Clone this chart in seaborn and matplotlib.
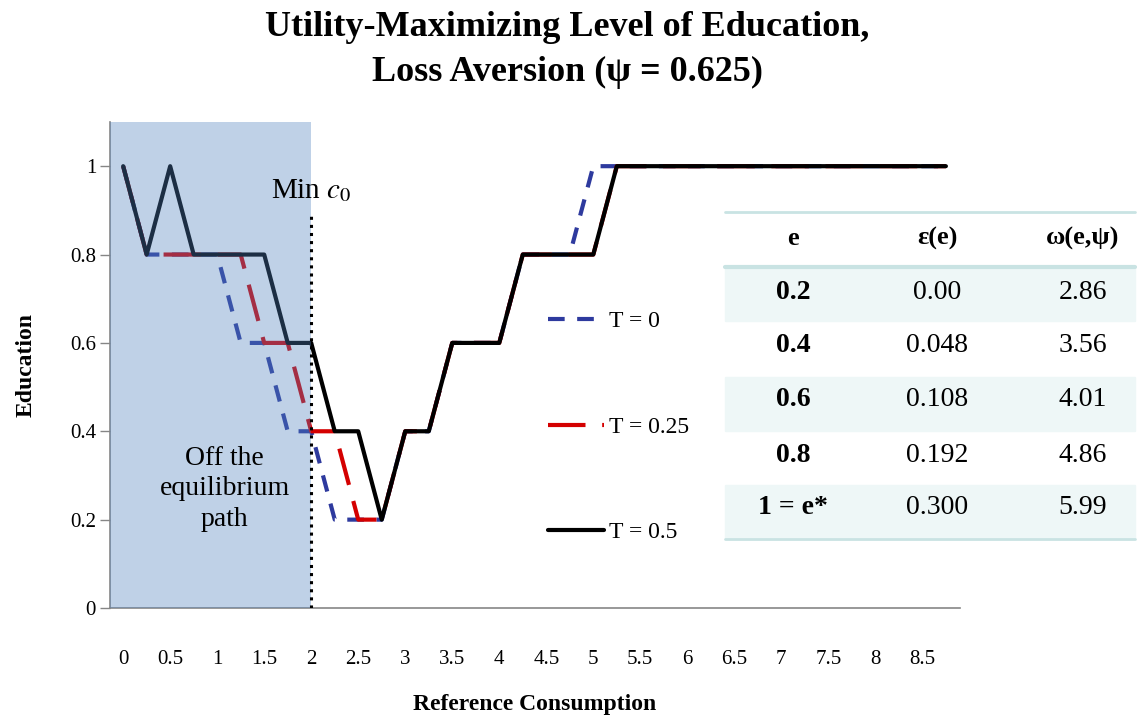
import matplotlib
matplotlib.use('Agg')

import pandas as pd
import matplotlib.pyplot as plt
import matplotlib.patches as mpatches
from matplotlib.lines import Line2D
import seaborn as sns

# datos
consumo = [0, 0.25, 0.5, 0.75, 1, 1.25, 1.5, 1.75, 2, 2.25, 2.5, 2.75, 3, 3.25,
           3.5, 3.75, 4, 4.25, 4.5, 4.75, 5, 5.25, 5.5, 5.75, 6, 6.25, 6.5,
           6.75, 7, 7.25, 7.5, 7.75, 8, 8.25, 8.5, 8.75]
edu_t0 = [1, 0.8, 0.8, 0.8, 0.8, 0.6, 0.6, 0.4, 0.4, 0.2, 0.2, 0.2, 0.4, 0.4,
          0.6, 0.6, 0.6, 0.8, 0.8, 0.8, 1, 1, 1, 1, 1, 1, 1,
          1, 1, 1, 1, 1, 1, 1, 1, 1]
edu_t025 = [1, 0.8, 0.8, 0.8, 0.8, 0.8, 0.6, 0.6, 0.4, 0.4, 0.2, 0.2, 0.4, 0.4,
            0.6, 0.6, 0.6, 0.8, 0.8, 0.8, 0.8, 1, 1, 1, 1, 1, 1,
            1, 1, 1, 1, 1, 1, 1, 1, 1]
edu_t05 = [1, 0.8, 1, 0.8, 0.8, 0.8, 0.8, 0.6, 0.6, 0.4, 0.4, 0.2, 0.4, 0.4,
           0.6, 0.6, 0.6, 0.8, 0.8, 0.8, 0.8, 1, 1, 1, 1, 1, 1,
           1, 1, 1, 1, 1, 1, 1, 1, 1]
x_ticks = [0, 0.5, 1, 1.5, 2, 2.5, 3, 3.5, 4, 4.5, 5, 5.5, 6, 6.5, 7, 7.5, 8, 8.5]
y_ticks = [0, 0.2, 0.4, 0.6, 0.8, 1]
min_c0 = 2

# tabla
tabla_e = ['0.2', '0.4', '0.6', '0.8', '1 = e*']
tabla_eps = ['0.00', '0.048', '0.108', '0.192', '0.300']
tabla_omega = ['2.86', '3.56', '4.01', '4.86', '5.99']
tabla_cols = ['e', 'ε(e)', 'ω(e,ψ)']

sns.set_style('white')
plt.rcParams['font.family'] = ['Liberation Serif', 'DejaVu Serif']
plt.rcParams['mathtext.fontset'] = 'stix'
plt.rcParams['text.color'] = 'black'
plt.rcParams['axes.labelcolor'] = 'black'
plt.rcParams['xtick.color'] = 'black'
plt.rcParams['ytick.color'] = 'black'

W, H = 1148, 721
fig = plt.figure(figsize=(W / 100, H / 100), dpi=100)
ax = fig.add_axes([110 / W, 1 - 608 / H, (960 - 110) / W, (608 - 122) / H])

def px(x, y):
    return x / W, 1 - y / H

df = pd.DataFrame({'c': consumo, 't0': edu_t0, 't025': edu_t025, 't05': edu_t05})

azul, rojo = '#2E3A9E', '#D40000'
sns.lineplot(data=df, x='c', y='t0', ax=ax, color=azul, lw=3,
             linestyle=(0, (4, 3)), zorder=2)
sns.lineplot(data=df, x='c', y='t025', ax=ax, color=rojo, lw=3,
             linestyle=(0, (9, 4)), zorder=3)
sns.lineplot(data=df, x='c', y='t05', ax=ax, color='black', lw=3, zorder=4)

# zona sombreada (encima de las lineas)
ax.axvspan(-0.2, min_c0, color='#4F81BD', alpha=0.36, lw=0, zorder=5)
ax.plot([min_c0, min_c0], [0, 0.89], color='black', lw=2.2, ls=':', zorder=6)
ax.text(min_c0, 0.945, 'Min $\\mathit{c}_{\\mathit{0}}$', ha='center', va='center',
        fontsize=21, zorder=7)
ax.text(1.08, 0.27, 'Off the\nequilibrium\npath', ha='center', va='center',
        fontsize=20, linespacing=1.3, zorder=7)

ax.set_xlim(-0.14, 8.9)
ax.set_ylim(0, 1.1)
ax.set_xticks(x_ticks)
ax.set_xticklabels([f'{v:g}' for v in x_ticks])
ax.set_yticks(y_ticks)
ax.set_yticklabels([f'{v:g}' for v in y_ticks])
ax.tick_params(axis='x', length=0, pad=30, labelsize=15)
ax.tick_params(axis='y', length=7, width=1, color='#868686', direction='out',
               pad=3, labelsize=15, left=True)
for s in ['top', 'right']:
    ax.spines[s].set_visible(False)
for s in ['left', 'bottom']:
    ax.spines[s].set_color('#868686')
    ax.spines[s].set_linewidth(1.2)
ax.set_xlabel('Reference Consumption', fontsize=17, fontweight='bold', labelpad=18)
ax.set_ylabel('Education', fontsize=17, fontweight='bold', labelpad=24)

handles = [Line2D([], [], color=azul, lw=3, linestyle=(0, (4, 3))),
           Line2D([], [], color=rojo, lw=3, linestyle=(0, (9, 4))),
           Line2D([], [], color='black', lw=3)]
ax.legend(handles, ['T = 0', 'T = 0.25', 'T = 0.5'], frameon=False, fontsize=17,
          loc='upper left', bbox_to_anchor=(0.49, 0.655), labelspacing=3.55,
          handlelength=2.4, handletextpad=0.2)

# titulo
fig.text(*px(567, 28), 'Utility-Maximizing Level of Education,', ha='center',
         va='center', fontsize=26, fontweight='bold')
fig.text(*px(567, 72), 'Loss Aversion (ψ = 0.625)', ha='center', va='center',
         fontsize=26, fontweight='bold')

# tabla dibujada a mano
t_left, t_right = 725, 1135
row_tops = [267, 320, 377, 430, 485]
row_h = 54
for i, top in enumerate(row_tops):
    if i % 2 == 0:
        fig.patches.append(mpatches.Rectangle(px(t_left, top + row_h), (t_right - t_left) / W,
                                              row_h / H, transform=fig.transFigure,
                                              color='#EEF7F7', zorder=1))
for yline, lw in [(212, 2), (267, 3), (539, 2)]:
    fig.add_artist(Line2D([t_left / W, t_right / W], [1 - yline / H] * 2,
                          color='#C9E3E3', lw=lw, transform=fig.transFigure))
col_x = [793, 937, 1083]
for j, col in enumerate(tabla_cols):
    fig.text(*px(col_x[j], 238), col, ha='center', va='center', fontsize=19,
             fontweight='bold')
row_y = [292, 345, 400, 455, 508]
for i in range(len(tabla_e)):
    fig.text(*px(col_x[0], row_y[i]), tabla_e[i], ha='center', va='center',
             fontsize=20, fontweight='bold')
    fig.text(*px(col_x[1], row_y[i]), tabla_eps[i], ha='center', va='center', fontsize=20)
    fig.text(*px(col_x[2], row_y[i]), tabla_omega[i], ha='center', va='center', fontsize=20)

fig.savefig('out.png', dpi=100)
